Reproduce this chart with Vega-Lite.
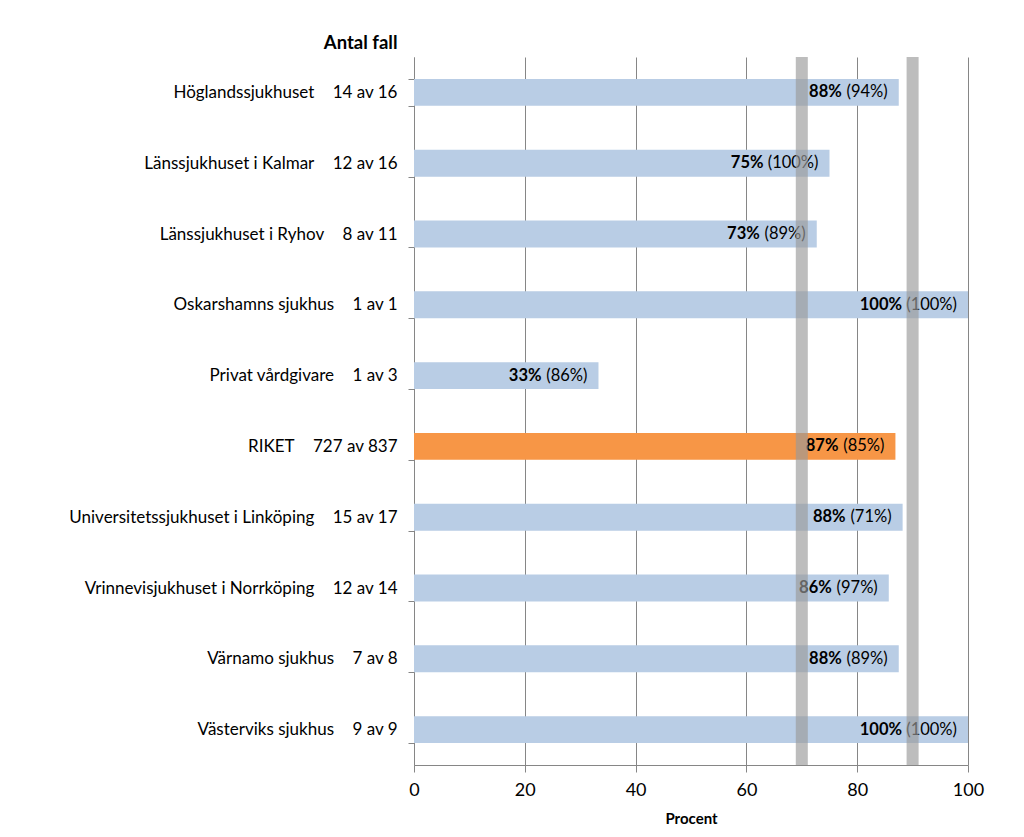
{
  "$schema": "https://vega.github.io/schema/vega-lite/v6.json",
  "width": 554,
  "height": 708,
  "autosize": {"type": "none"},
  "padding": {"left": 414, "top": 57, "right": 56, "bottom": 72},
  "background": "white",
  "config": {"font": "Lato", "view": {"stroke": null}},
  "datasets": {
    "units": [
      {"label": "Höglandssjukhuset\u2003\u200414 av 16", "value": 87.5, "pct": "88%", "ref": "(94%)", "group": "enhet"},
      {"label": "Länssjukhuset i Kalmar\u2003\u200412 av 16", "value": 75.0, "pct": "75%", "ref": "(100%)", "group": "enhet"},
      {"label": "Länssjukhuset i Ryhov\u2003\u20048 av 11", "value": 72.7, "pct": "73%", "ref": "(89%)", "group": "enhet"},
      {"label": "Oskarshamns sjukhus\u2003\u20041 av 1", "value": 100.0, "pct": "100%", "ref": "(100%)", "group": "enhet"},
      {"label": "Privat vårdgivare\u2003\u20041 av 3", "value": 33.3, "pct": "33%", "ref": "(86%)", "group": "enhet"},
      {"label": "RIKET\u2003\u2004727 av 837", "value": 86.9, "pct": "87%", "ref": "(85%)", "group": "riket"},
      {"label": "Universitetssjukhuset i Linköping\u2003\u200415 av 17", "value": 88.2, "pct": "88%", "ref": "(71%)", "group": "enhet"},
      {"label": "Vrinnevisjukhuset i Norrköping\u2003\u200412 av 14", "value": 85.7, "pct": "86%", "ref": "(97%)", "group": "enhet"},
      {"label": "Värnamo sjukhus\u2003\u20047 av 8", "value": 87.5, "pct": "88%", "ref": "(89%)", "group": "enhet"},
      {"label": "Västerviks sjukhus\u2003\u20049 av 9", "value": 100.0, "pct": "100%", "ref": "(100%)", "group": "enhet"}
    ],
    "targets": [{"t": 70}, {"t": 90}]
  },
  "layer": [
    {
      "data": {"name": "units"},
      "mark": {"type": "bar"},
      "encoding": {
        "y": {
          "field": "label", "type": "nominal", "sort": null,
          "scale": {"paddingInner": 0.62, "paddingOuter": 0.31},
          "axis": {
            "title": "Antal fall", "titleAngle": 0, "titleAlign": "right", "titleX": -17, "titleY": -15,
            "titleBaseline": "middle", "titleFontSize": 18.5, "titleFontWeight": "bold", "titleColor": "#000",
            "domainColor": "#868686", "tickColor": "#868686", "tickBand": "extent", "tickSize": 6,
            "labelFontSize": 17, "labelColor": "#000", "labelPadding": 11, "labelLimit": 400
          }
        },
        "x": {
          "field": "value", "type": "quantitative",
          "scale": {"domain": [0, 100], "nice": false},
          "axis": {
            "values": [0, 20, 40, 60, 80, 100], "grid": true, "gridColor": "#868686", "gridWidth": 1,
            "domainColor": "#868686", "tickColor": "#868686", "tickSize": 7,
            "labelFontSize": 18, "labelColor": "#000", "labelPadding": 9, "labelFlush": false,
            "title": "Procent", "titleFontSize": 15, "titleFontWeight": "bold", "titleColor": "#000", "titlePadding": 12
          }
        },
        "color": {
          "field": "group", "type": "nominal",
          "scale": {"domain": ["enhet", "riket"], "range": ["#B9CDE5", "#F79646"]},
          "legend": null
        }
      }
    },
    {
      "data": {"name": "units"},
      "mark": {"type": "text", "align": "right", "baseline": "middle", "dx": -11, "fontSize": 16.5, "color": "#000"},
      "encoding": {
        "y": {"field": "label", "type": "nominal", "sort": null},
        "x": {"field": "value", "type": "quantitative"},
        "text": {"field": "ref"}
      }
    },
    {
      "data": {"name": "units"},
      "transform": [{"filter": "length(datum.ref) == 5"}],
      "mark": {"type": "text", "align": "right", "baseline": "middle", "dx": -57, "fontSize": 16.5, "fontWeight": "bold", "color": "#000"},
      "encoding": {
        "y": {"field": "label", "type": "nominal", "sort": null},
        "x": {"field": "value", "type": "quantitative"},
        "text": {"field": "pct"}
      }
    },
    {
      "data": {"name": "units"},
      "transform": [{"filter": "length(datum.ref) == 6"}],
      "mark": {"type": "text", "align": "right", "baseline": "middle", "dx": -66, "fontSize": 16.5, "fontWeight": "bold", "color": "#000"},
      "encoding": {
        "y": {"field": "label", "type": "nominal", "sort": null},
        "x": {"field": "value", "type": "quantitative"},
        "text": {"field": "pct"}
      }
    },
    {
      "data": {"name": "targets"},
      "mark": {"type": "rule", "strokeWidth": 12, "color": "#999999", "opacity": 0.65},
      "encoding": {
        "x": {"field": "t", "type": "quantitative"}
      }
    }
  ]
}
